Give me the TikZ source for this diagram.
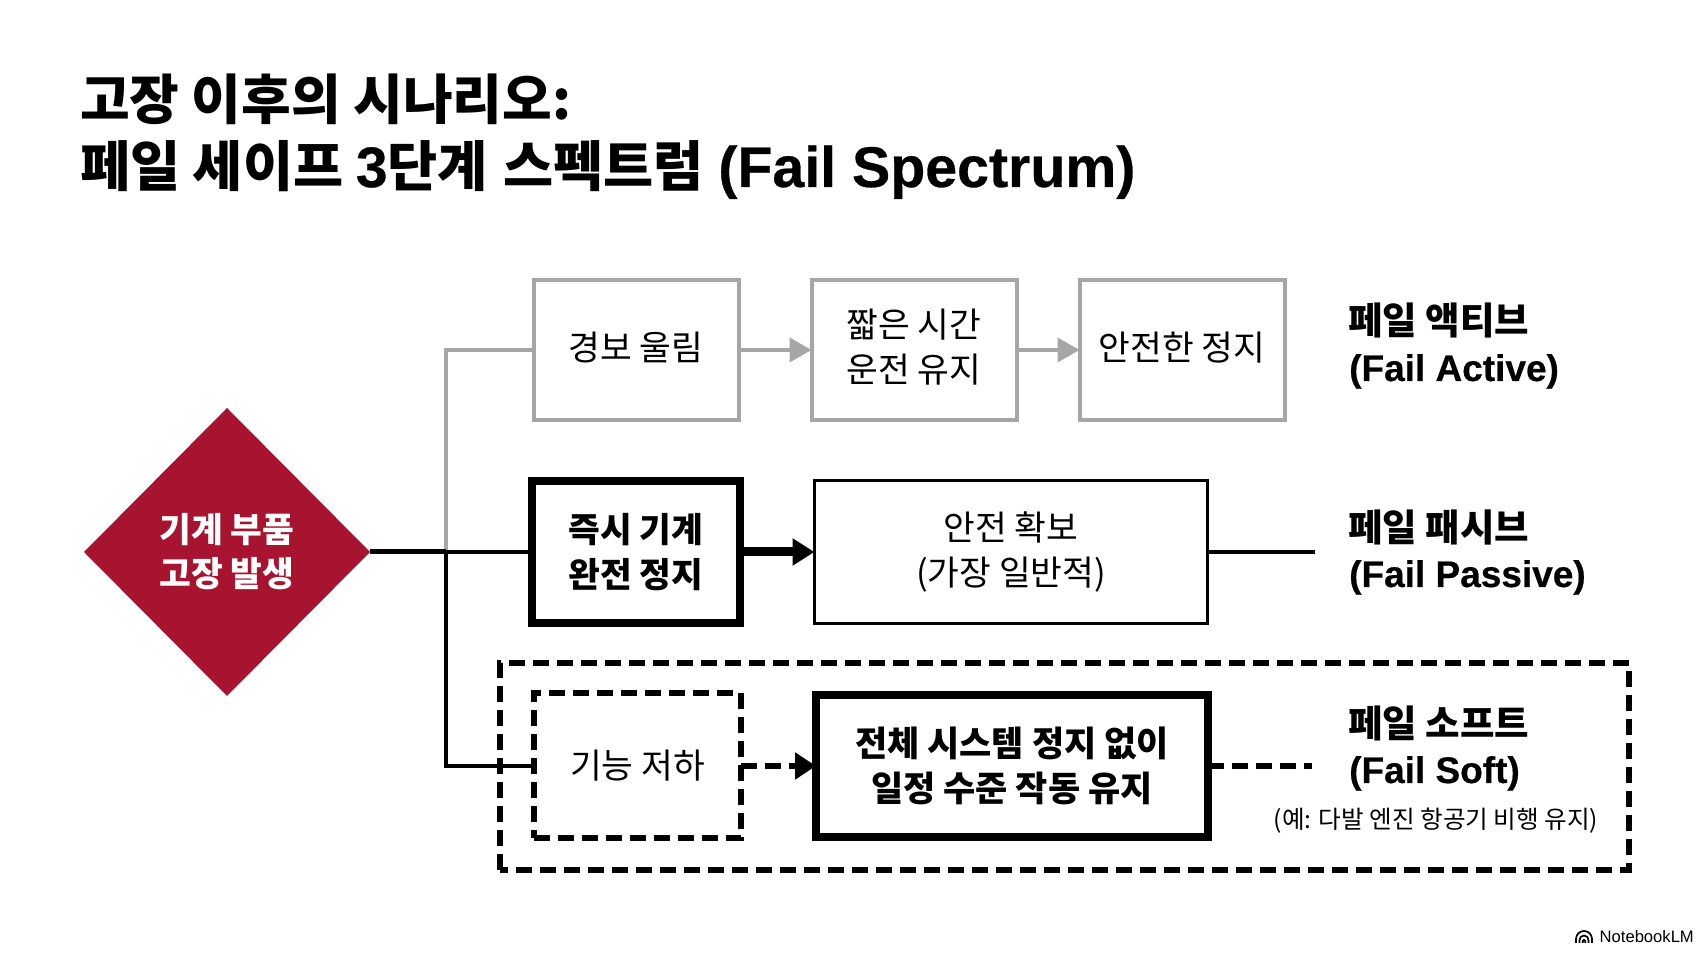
\documentclass[tikz,border=0pt]{standalone}
\usepackage{fontspec}
\setmainfont{Noto Sans CJK KR}
\newfontfamily\latinfont[BoldFeatures={FakeBold=0.5}]{Liberation Sans}
\usetikzlibrary{shapes.geometric,arrows.meta}
\definecolor{failred}{HTML}{A8142F}
\definecolor{failgray}{HTML}{A6A6A6}
\tikzset{
  lightbox/.style={draw=failgray,line width=4pt,outer sep=0pt,inner sep=0pt,align=center,minimum width=205pt,minimum height=140pt,text depth=8pt,font=\fontsize{34.5}{45}\selectfont},
  plainbox/.style={draw=black,line width=3.5pt,outer sep=0pt,inner sep=0pt,align=center,font=\fontsize{34.5}{45}\selectfont},
  heavybox/.style={draw=black,line width=7.5pt,outer sep=0pt,inner sep=0pt,align=center,font=\fontsize{34.5}{45}\selectfont\bfseries},
  softbox/.style={draw=black,line width=6pt,dash pattern=on 16pt off 8pt,outer sep=0pt,inner sep=0pt,align=center,font=\fontsize{34.5}{45}\selectfont},
  sidelabel/.style={anchor=base west,inner sep=0pt,font=\fontsize{37.5}{48}\selectfont\bfseries},
  latinlabel/.style={anchor=base west,inner sep=0pt,font=\latinfont\fontsize{37}{48}\selectfont\bfseries},
  titleline/.style={anchor=base west,inner sep=0pt,font=\fontsize{54.5}{66}\selectfont\bfseries},
  grayarrow/.style={draw=failgray,line width=4pt,-{Triangle[length=22pt,width=24pt,fill=failgray]}},
  softdash/.style={line width=6pt,dash pattern=on 16pt off 8pt}
}
\begin{document}
\begin{tikzpicture}[x=1pt,y=1pt]
  \useasboundingbox (0,0) rectangle (1707,960);
  % title
  \node[titleline,font=\fontsize{54}{66}\selectfont\bfseries] (title1) at (80,840) {고장 이후의 시나리오:};
  \node[titleline] (title2) at (80,773) {페일 세이프 {\latinfont\fontsize{57}{66}\selectfont 3}단계 \hspace{3pt}스펙트럼 \hspace{2pt}{\latinfont\fontsize{57.3}{66}\selectfont (Fail Spectrum)}};
  % start of the three branches
  \node[diamond,aspect=1,fill=failred,inner sep=0pt,outer sep=0pt,minimum width=286pt,minimum height=288pt,align=center,text=white,font=\fontsize{34.5}{44}\selectfont\bfseries] (fault) at (227,408) {기계 부품\\고장 발생};
  \coordinate (trunk) at (446,408);
  % top row
  \node[lightbox] (alarm) at (636,610) {경보 울림};
  \node[lightbox] (brief) at (914,610) {짧은 시간\\운전 유지};
  \node[lightbox] (halt) at (1182,610) {안전한 정지};
  % middle row
  \node[heavybox,minimum width=208pt,minimum height=142pt] (stop) at (636,408) {즉시 기계\\완전 정지};
  \node[plainbox,minimum width=393pt,minimum height=143pt] (safe) at (1011,408) {안전 확보\\(가장 일반적)};
  % bottom row
  \draw[softbox] (500,90) rectangle (1629,297);
  \node[softbox,minimum width=207pt,minimum height=145pt] (degrade) at (637.5,194) {기능 저하};
  \node[heavybox,minimum width=392pt,minimum height=142pt,font=\fontsize{35}{45}\selectfont\bfseries] (keep) at (1012,194) {전체 시스템 정지 없이\\일정 수준 작동 유지};
  % labels on the right
  \node[sidelabel] (active1) at (1348,625) {페일 액티브};
  \node[latinlabel] (active2) at (1349,579) {(Fail Active)};
  \node[sidelabel] (passive1) at (1348,418) {페일 패시브};
  \node[latinlabel] (passive2) at (1349,373) {(Fail Passive)};
  \node[sidelabel] (soft1) at (1348,222) {페일 소프트};
  \node[latinlabel] (soft2) at (1349,177) {(Fail Soft)};
  \node[inner sep=0pt,font=\fontsize{24.6}{30}\selectfont] (example) at (1436,139) {(예: 다발 엔진 항공기 비행 유지)};
  \coordinate (passiveend) at (1315,408);
  \coordinate (softend) at (1312,194);
  % connectors
  \draw[failgray,line width=3.5pt] (trunk) |- (alarm.west);
  \draw[line width=3.5pt] (trunk) |- (degrade.west);
  \draw[line width=3.5pt] (trunk) -- (stop.west);
  \draw[line width=5pt] (fault.east) -- (trunk);
  \draw[grayarrow] (alarm) -- (brief);
  \draw[grayarrow] (brief) -- (halt);
  \draw[line width=9pt,-{Triangle[length=22pt,width=26pt]}] (stop) -- (safe);
  \draw[line width=3.5pt] (safe) -- (passiveend);
  \draw[softdash] (degrade.east) -- ++(50,0) coordinate (tipstart);
  \draw[-{Triangle[length=21pt,width=26pt]},line width=6pt] (tipstart) -- (keep.west);
  \draw[softdash] (keep.east) -- (softend);
  % corner mark
  \node[anchor=east,inner sep=0pt,font=\latinfont\fontsize{16.6}{18}\selectfont] (mark) at (1694,23) {NotebookLM};
  \draw[line width=1.7pt] (1576,17) -- ++(0,4) arc (180:0:8) -- ++(0,-4) (1579.5,17) -- ++(0,3) arc (180:0:4.5) -- ++(0,-3) (1582.8,17) -- ++(0,2) arc (180:0:1.2) -- ++(0,-2);
\end{tikzpicture}
\end{document}
